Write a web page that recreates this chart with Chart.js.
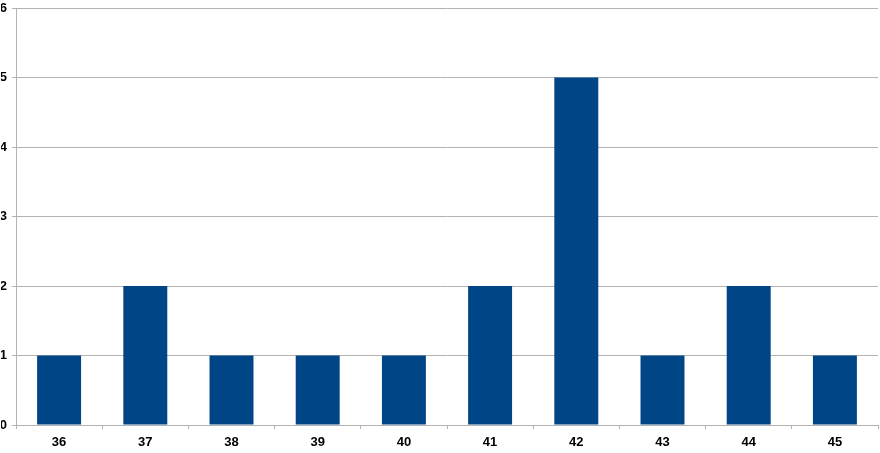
<!DOCTYPE html>
<html>
<head>
<meta charset="utf-8">
<script src="https://cdn.jsdelivr.net/npm/chart.js@4/dist/chart.umd.min.js"></script>
<style>
html,body{margin:0;padding:0;background:#fff;}
#wrap{width:880px;height:453px;position:relative;}
</style>
</head>
<body>
<div id="wrap"><canvas id="c" width="880" height="453"></canvas></div>
<script>
const categories = ['36','37','38','39','40','41','42','43','44','45'];
const counts = [1, 2, 1, 1, 1, 2, 5, 1, 2, 1];
const yTicks = [0, 1, 2, 3, 4, 5, 6];

const gridGrey = '#b3b3b3';
const font = {family: '"Liberation Sans", Arial, sans-serif', size: 13, weight: 'bold'};

new Chart(document.getElementById('c'), {
  type: 'bar',
  data: {
    labels: categories,
    datasets: [{
      data: counts,
      backgroundColor: '#004586',
      borderWidth: 0,
      barPercentage: 0.51,
      categoryPercentage: 1.0
    }]
  },
  options: {
    responsive: false,
    animation: false,
    devicePixelRatio: 1,
    layout: {padding: {top: 8, right: 2, left: 1, bottom: 0}},
    plugins: {legend: {display: false}, tooltip: {enabled: false}},
    scales: {
      x: {
        offset: true,
        grid: {
          offset: true,
          drawOnChartArea: true,
          color: ctx => ctx.index === categories.length ? gridGrey : 'rgba(0,0,0,0)',
          tickColor: gridGrey,
          tickLength: 4,
          lineWidth: 1
        },
        border: {display: true, color: gridGrey},
        ticks: {color: '#000', font: font, padding: 6, maxRotation: 0},
        afterFit: s => { s.height = 28; s.paddingLeft = 0; s.paddingRight = 0; }
      },
      y: {
        min: 0, max: 6,
        afterBuildTicks: s => { s.ticks = yTicks.map(v => ({value: v})); },
        grid: {color: gridGrey, tickColor: gridGrey, tickLength: 4, lineWidth: 1},
        border: {display: true, color: gridGrey},
        ticks: {color: '#000', font: font, padding: 5},
        afterFit: s => { s.width = 15; s.paddingTop = 0; s.paddingBottom = 0; }
      }
    }
  }
});
</script>
</body>
</html>
